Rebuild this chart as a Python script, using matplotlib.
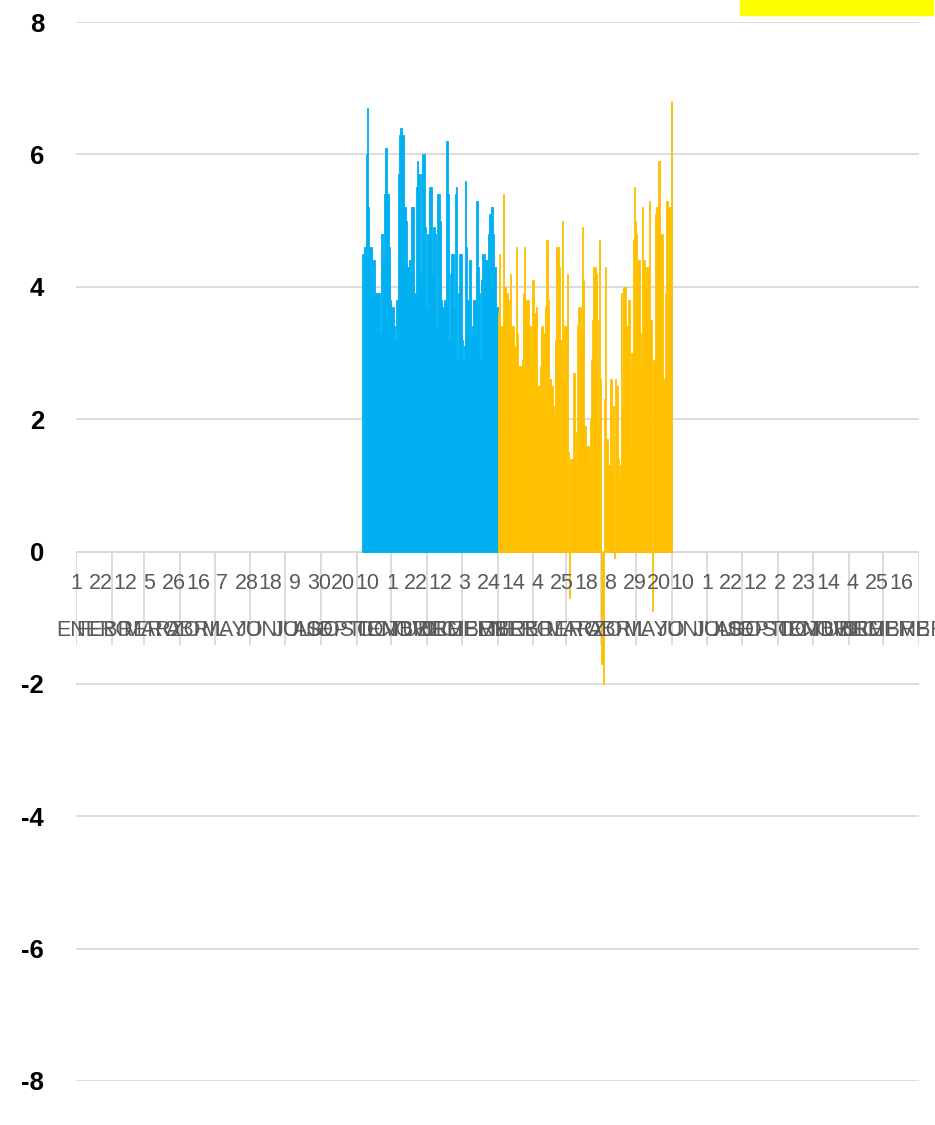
import numpy as np
import pandas as pd
import matplotlib
matplotlib.use('Agg')
import matplotlib.pyplot as plt
from matplotlib.patches import Rectangle

plt.rcParams['axes.unicode_minus'] = False

# eje de categorias: dos anos de dias
inicio = pd.Timestamp('2022-01-01')
fin = pd.Timestamp('2024-01-01')

meses = ['ENERO', 'FEBRERO', 'MARZO', 'ABRIL', 'MAYO', 'JUNIO', 'JULIO',
         'AGOSTO', 'SEPTIEMBRE', 'OCTUBRE', 'NOVIEMBRE', 'DICIEMBRE']
dias_etiqueta = [1, 22, 12, 5, 26, 16, 7, 28, 18, 9, 30, 20, 10, 1, 22, 12, 3, 24,
                 14, 4, 25, 18, 8, 29, 20, 10, 1, 22, 12, 2, 23, 14, 4, 25, 16]
paso_etiqueta = 21

# serie azul (6 sep - 31 dic, ano 1)
inicio_azul = pd.Timestamp('2022-09-06')
serie_azul = [
    4.5, 4.6, 4.6, 6.0, 6.7, 5.2, 4.6, 4.6, 4.4, 4.4, 4.4, 3.9, 3.9, 3.9, 3.9, 3.3,
    4.8, 4.8, 4.4, 5.4, 6.1, 5.4, 5.4, 4.6, 3.8, 3.7, 3.7, 3.4, 3.2, 3.8, 3.8, 5.7,
    6.3, 6.4, 6.3, 6.3, 5.2, 5.2, 5.0, 4.3, 4.4, 4.4, 5.2, 5.2, 5.2, 3.9, 5.5, 5.9,
    5.7, 5.7, 4.2, 5.7, 6.0, 6.0, 4.9, 3.7, 4.8, 4.8, 5.5,
    5.5, 4.2, 4.9, 4.9, 4.8, 3.4, 5.4, 5.4, 5.0, 3.8, 3.7, 3.7, 3.8, 6.2, 6.2, 5.4,
    3.2, 4.2, 4.5, 4.5, 3.7, 5.4, 5.5, 2.9, 3.9, 4.5, 4.5, 3.2, 2.9, 3.1, 5.6, 4.6,
    3.8, 4.4, 4.4, 3.3, 3.4, 3.8, 3.8, 5.3, 5.3, 4.3, 3.9, 2.9, 4.1, 4.5, 4.5, 4.4,
    4.4, 4.4, 4.8, 5.1, 5.2, 5.2, 4.8, 4.3, 4.3, 3.7,
]

# serie naranja (1 ene - 31 may, ano 2)
inicio_naranja = pd.Timestamp('2023-01-01')
serie_naranja = [
    3.6, 4.5, 3.4, 3.4, 3.4, 5.4, 4.0, 3.9, 3.9, 3.8, 3.4, 4.2, 3.4, 3.4, 3.1, 3.1,
    4.6, 3.3, 2.8, 2.8, 2.8, 2.9, 3.9, 4.6, 3.8, 3.8, 3.8, 3.4, 3.4, 3.0, 4.1, 4.1,
    3.6, 3.7, 2.5, 2.5, 2.5, 2.8, 3.4, 3.3, 3.3, 3.7, 4.7, 4.7, 3.8, 2.6, 2.5, 2.5,
    2.2, 2.0, 3.2,
    4.6, 4.6, 4.3, 3.2, 3.2, 5.0, 2.5, 3.4, 3.4, 4.2, 1.5, -0.7, 1.4, 1.4, 2.7, 2.7,
    1.3, 1.8, 3.4, 3.7, 3.7, 3.3, 4.9, 4.1, 1.9, 1.9, 1.6, 1.6, 1.3, 2.0, 2.9, 3.5,
    4.3, 4.3, 4.2, 1.9, 3.5, 4.7, 2.6, -1.7, -2.0, 2.3, 4.3, 1.7, 1.7, 1.3, 2.6, 2.6,
    1.2, 2.2, -0.1,
    2.6, 2.5, 1.4, 1.1, 1.3, 3.9, 2.2, 4.0, 4.0, 3.4, 3.4, 3.8, 3.8, 1.6, 3.0, 4.7,
    5.5, 5.0, 4.8, 4.4, 4.4, 3.3, 2.8, 5.2, 4.4, 4.4, 4.0, 4.3, 4.3, 5.3, 3.5, 3.5,
    -0.9, 2.9, 5.1, 5.2, 5.2, 5.9, 5.9, 4.8, 4.8, 2.6, 2.6, 3.9, 5.3, 5.3, 5.2, 5.2,
    6.8,
]

AZUL = '#00B0F0'
NARANJA = '#FFC000'
GRIS = '#D9D9D9'
TEXTO = '#595959'

W, H = 935, 1125
fig = plt.figure(figsize=(W / 100, H / 100), dpi=100)
ax = fig.add_axes([76 / W, 1 - 1081 / H, (919 - 76) / W, (1081 - 22) / H])

total_dias = (fin - inicio).days
ax.set_xlim(0, total_dias)
ax.set_ylim(-8, 8)

x_azul = (inicio_azul - inicio).days + np.arange(len(serie_azul))
x_nar = (inicio_naranja - inicio).days + np.arange(len(serie_naranja))
ax.bar(x_azul, serie_azul, width=1.0, align='edge', color=AZUL,
       edgecolor=AZUL, linewidth=0.6, zorder=3)
ax.bar(x_nar, serie_naranja, width=1.0, align='edge', color=NARANJA,
       edgecolor=NARANJA, linewidth=0.6, zorder=3)

# cuadricula y eje
ax.set_yticks(np.arange(-8, 9, 2))
ax.set_xticks([])
ax.yaxis.grid(True, color=GRIS, linewidth=1.3, zorder=0)
ax.set_axisbelow(True)
ax.tick_params(axis='y', length=0, pad=23)
for lab in ax.get_yticklabels():
    lab.set_fontweight('bold')
    lab.set_fontsize(18.5)
    lab.set_family(['Liberation Sans', 'DejaVu Sans'])
for s in ax.spines.values():
    s.set_visible(False)
ax.axhline(0, color=GRIS, linewidth=1.3, zorder=1)

# separadores de meses y etiquetas de dos niveles
bordes = pd.date_range(inicio, fin, freq='MS')
pos_bordes = np.array([(b - inicio).days for b in bordes])
ax.vlines(pos_bordes, -1.42, 0, color=GRIS, linewidth=1.3, zorder=1)

fuente = ['Liberation Sans Narrow', 'Liberation Sans', 'DejaVu Sans']
for i in range(len(pos_bordes) - 1):
    xc = (pos_bordes[i] + pos_bordes[i + 1]) / 2
    ax.text(xc, -1.19, meses[i % 12], ha='center', va='center', fontsize=15.5,
            color=TEXTO, family=fuente, clip_on=False)

for i, d in enumerate(dias_etiqueta):
    ax.text(i * paso_etiqueta + 0.5, -0.48, str(d), ha='center', va='center',
            fontsize=15.5, color=TEXTO, family=fuente)

# recuadro amarillo arriba a la derecha
fig.patches.append(Rectangle((740 / W, 1 - 15 / H), (933 - 740) / W, 15 / H,
                             transform=fig.transFigure, color='#FFFF00', zorder=5))

fig.savefig('out.png', dpi=100)
